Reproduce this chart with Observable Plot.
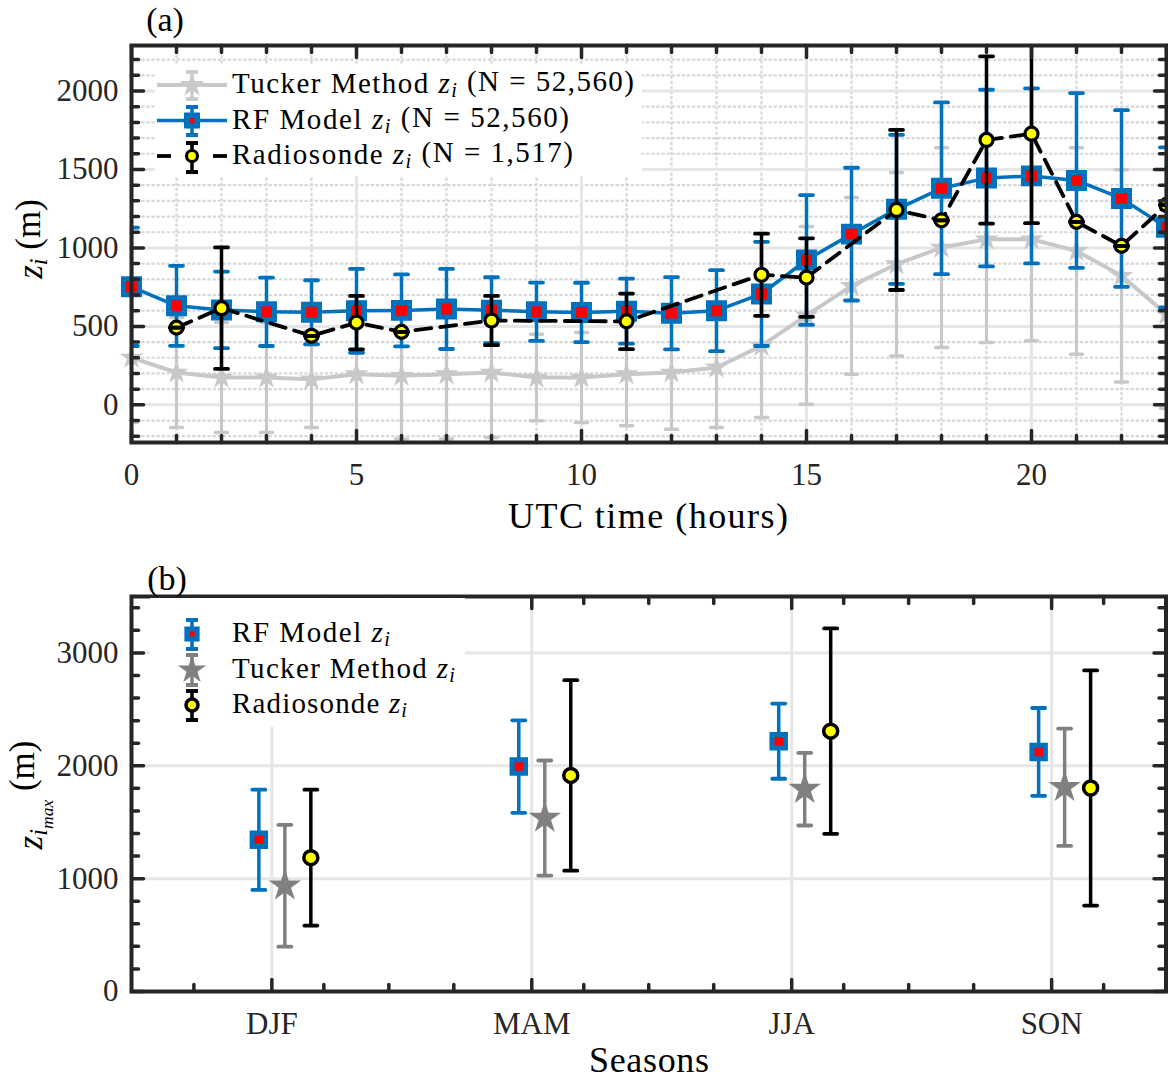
<!DOCTYPE html>
<html>
<head>
<meta charset="utf-8">
<script src="https://cdn.jsdelivr.net/npm/d3@7"></script>
<script src="https://cdn.jsdelivr.net/npm/@observablehq/plot@0.6"></script>
<style>
  body { margin: 0; background: #fff; }
  #wrap { position: relative; width: 1168px; height: 1079px; overflow: hidden; }
  #wrap > svg.plotsvg { display: block; }
  #overlay { position: absolute; left: 0; top: 0; pointer-events: none; }
</style>
</head>
<body>
<div id="wrap"></div>
<script>
// ---------------- data: panel (a) ----------------
const hours = [0,1,2,3,4,5,6,7,8,9,10,11,12,13,14,15,16,17,18,19,20,21,22,23];
const rfMean = [752,631,605,593,590,599,602,611,603,593,589,597,584,600,707,923,1088,1246,1380,1445,1459,1430,1315,1131];
const rfStd  = [377,255,244,218,204,267,229,255,210,186,189,207,230,258,332,414,423,475,547,563,558,557,563,510];
const tuckerMean = [301,206,174,174,163,195,185,195,206,174,174,195,206,238,376,570,758,896,1002,1055,1055,981,822,578];
const tuckerStd  = [414,351,350,350,308,460,402,412,414,276,287,329,361,383,457,566,563,584,637,658,647,658,676,600];
const sondeHours = [1,2,4,5,6,8,11,14,15,17,18,19,20,21,22,23];
const sondeMean  = [492,616,440,524,465,537,532,829,811,1242,1176,1688,1728,1166,1013,1274];
const sondeStd   = [0,387,0,170,0,157,177,262,250,510,0,533,570,0,0,0];
const hourTicks = [0,5,10,15,20];
const zTicksA = [0,500,1000,1500,2000];

// ---------------- data: panel (b) ----------------
const seasons = ["DJF","MAM","JJA","SON"];
const rfSeasonMean = [1344,1993,2218,2123];
const rfSeasonStd  = [444,410,333,389];
const tuckerSeasonMean = [937,1537,1793,1810];
const tuckerSeasonStd  = [540,510,322,520];
const sondeSeasonMean = [1186,1915,2307,1803];
const sondeSeasonStd  = [602,844,910,1042];
const zTicksB = [0,1000,2000,3000];

// ---------------- helpers ----------------
const AX = "#262626";
const BLUE = "#0072BD";
const FONT = '"Liberation Serif", "Times New Roman", serif';
const seg = {draw(ctx, l) { ctx.moveTo(0, 0); ctx.lineTo(0, -l); }};

function vec(data, o) {
  return Plot.vector(data, Object.assign({shape: seg, anchor: "start", stroke: AX, strokeWidth: 3.5, fill: "none"}, o));
}
function frameTicksX(values, len) {
  return [
    vec(values, {x: d => d, frameAnchor: "bottom", rotate: 0, length: len}),
    vec(values, {x: d => d, frameAnchor: "top", rotate: 180, length: len})
  ];
}
function frameTicksY(values, len) {
  return [
    vec(values, {y: d => d, frameAnchor: "left", rotate: 90, length: len}),
    vec(values, {y: d => d, frameAnchor: "right", rotate: -90, length: len})
  ];
}
function capsOf(rows) {
  return rows.flatMap(d => [{x: d.x, v: d.m - d.s}, {x: d.x, v: d.m + d.s}]);
}
function bars(rows, color, w, clip = true) {
  return Plot.ruleX(rows, {x: "x", y1: d => d.m - d.s, y2: d => d.m + d.s, stroke: color, strokeWidth: w, clip});
}
function caps(rows, color, w, len, clip = true) {
  return vec(capsOf(rows), {x: "x", y: "v", rotate: 90, anchor: "middle", length: len, stroke: color, strokeWidth: w, clip});
}
const notMult = (arr, k) => arr.filter(v => v % k !== 0);
const plainNum = d => String(d);

// ---------------- panel (a) ----------------
const rf = hours.map((h, i) => ({x: h, m: rfMean[i], s: rfStd[i]}));
const tucker = hours.map((h, i) => ({x: h, m: tuckerMean[i], s: tuckerStd[i]}));
const sonde = sondeHours.map((h, i) => ({x: h, m: sondeMean[i], s: sondeStd[i]}));

const yMinorA = notMult(d3.range(-200, 2201, 100), 500);
const xMinorA = notMult(d3.range(1, 23), 5);
const TK = "#c8c8c8";

const panelA = Plot.plot({
  width: 1168, height: 540,
  marginTop: 45, marginLeft: 131, marginRight: 2, marginBottom: 98,
  x: {domain: [0, 23]},
  y: {domain: [-240, 2290]},
  style: {fontFamily: FONT, fontSize: "31px", color: AX, background: "transparent", overflow: "visible"},
  marks: [
    Plot.ruleY(yMinorA, {stroke: "#d8d8d8", strokeWidth: 2.2, strokeDasharray: "3.3,1.8"}),
    Plot.ruleX(xMinorA, {stroke: "#d8d8d8", strokeWidth: 2.2, strokeDasharray: "3.3,1.8"}),
    Plot.ruleY(zTicksA, {stroke: "#e6e6e6", strokeWidth: 3}),
    Plot.ruleX(hourTicks.filter(h => h > 0), {stroke: "#e6e6e6", strokeWidth: 3}),
    // Tucker
    bars(tucker, TK, 3.2),
    caps(tucker, TK, 3.5, 12),
    Plot.line(tucker, {x: "x", y: "m", stroke: TK, strokeWidth: 4}),
    Plot.dot(tucker, {x: "x", y: "m", symbol: "star", r: 7.5, fill: TK, stroke: "none"}),
    // RF model
    bars(rf, BLUE, 3.5),
    caps(rf, BLUE, 3.8, 13),
    Plot.line(rf, {x: "x", y: "m", stroke: BLUE, strokeWidth: 3.5}),
    Plot.dot(rf, {x: "x", y: "m", symbol: "square", r: 9, fill: "#ff0000", stroke: BLUE, strokeWidth: 5}),
    // Radiosonde
    bars(sonde, "#000", 3.5),
    Plot.line(sonde, {x: "x", y: "m", stroke: "#000", strokeWidth: 3.8, strokeDasharray: "16,9"}),
    Plot.dot(sonde, {x: "x", y: "m", r: 6.5, fill: "#ffff00", stroke: "#000", strokeWidth: 3.2}),
    caps(sonde, "#000", 3.8, 13),
    // frame & ticks
    Plot.frame({stroke: AX, strokeWidth: 4}),
    ...frameTicksX(xMinorA.concat([23]), 7),
    ...frameTicksX(hourTicks, 12),
    ...frameTicksY(yMinorA, 7),
    ...frameTicksY(zTicksA, 12),
    Plot.axisX({ticks: hourTicks, tickFormat: plainNum, tickSize: 0, tickPadding: 20, label: null, fontSize: 31}),
    Plot.axisY({ticks: zTicksA, tickFormat: plainNum, tickSize: 0, tickPadding: 13, label: null, fontSize: 31})
  ]
});
panelA.classList.add("plotsvg");

// ---------------- panel (b) ----------------
const off = [-0.05, 0.05, 0.15];
const rfS = seasons.map((s, i) => ({x: i + 1 + off[0], m: rfSeasonMean[i], s: rfSeasonStd[i]}));
const tkS = seasons.map((s, i) => ({x: i + 1 + off[1], m: tuckerSeasonMean[i], s: tuckerSeasonStd[i]}));
const soS = seasons.map((s, i) => ({x: i + 1 + off[2], m: sondeSeasonMean[i], s: sondeSeasonStd[i]}));
const seasonPos = [1, 2, 3, 4];
const xMinorB = [0.7, 1.2, 1.45, 1.7, 2.2, 2.45, 2.7, 3.2, 3.45, 3.7, 4.2];
const yMinorB = notMult(d3.range(200, 3500, 200), 1000);
const TKB = "#808080";

const panelB = Plot.plot({
  width: 1168, height: 539,
  marginTop: 56, marginLeft: 131, marginRight: 2.5, marginBottom: 88,
  x: {domain: [0.46, 4.44]},
  y: {domain: [0, 3500]},
  style: {fontFamily: FONT, fontSize: "31px", color: AX, background: "transparent", overflow: "visible"},
  marks: [
    Plot.ruleY(zTicksB.filter(v => v > 0), {stroke: "#e6e6e6", strokeWidth: 3}),
    Plot.ruleX(seasonPos, {stroke: "#e6e6e6", strokeWidth: 3}),
    bars(rfS, BLUE, 3.5), caps(rfS, BLUE, 3.8, 13),
    Plot.dot(rfS, {x: "x", y: "m", symbol: "square", r: 7.6, fill: "#ff0000", stroke: BLUE, strokeWidth: 5}),
    bars(tkS, TKB, 3.5), caps(tkS, TKB, 3.8, 13),
    Plot.dot(tkS, {x: "x", y: "m", symbol: "star", r: 10.2, fill: TKB, stroke: "none"}),
    bars(soS, "#000", 3.5), caps(soS, "#000", 3.8, 13),
    Plot.dot(soS, {x: "x", y: "m", r: 7, fill: "#ffff00", stroke: "#000", strokeWidth: 3.5}),
    Plot.frame({stroke: AX, strokeWidth: 4}),
    ...frameTicksX(xMinorB, 7),
    ...frameTicksX(seasonPos, 12),
    ...frameTicksY(yMinorB, 7),
    ...frameTicksY(zTicksB, 12),
    Plot.axisX({ticks: seasonPos, tickFormat: d => seasons[d - 1], tickSize: 0, tickPadding: 20, label: null, fontSize: 31}),
    Plot.axisY({ticks: zTicksB, tickFormat: plainNum, tickSize: 0, tickPadding: 13, label: null, fontSize: 31})
  ]
});
panelB.classList.add("plotsvg");

const wrap = document.getElementById("wrap");
wrap.appendChild(panelA);
wrap.appendChild(panelB);

// ---------------- overlay: labels & legends ----------------
const ov = d3.select(wrap).append("svg").attr("id", "overlay")
  .attr("width", 1168).attr("height", 1079)
  .style("font-family", FONT).attr("fill", "#000");

function plain(x, y, txt, size, len) {
  const t = ov.append("text").attr("x", x).attr("y", y).attr("font-size", size)
    .attr("text-anchor", "middle").text(txt);
  if (len) t.attr("textLength", len).attr("lengthAdjust", "spacing");
}
plain(165, 31, "(a)", 34);
plain(167, 590, "(b)", 34);
plain(648, 528, "UTC time (hours)", 36, 280);
plain(649, 1072, "Seasons", 36, 120);

function zLabel(cx, cy, sub2) {
  const t = ov.append("text").attr("transform", `translate(${cx},${cy}) rotate(-90)`)
    .attr("font-size", 35).attr("text-anchor", "middle");
  t.append("tspan").attr("font-style", "italic").text("z");
  t.append("tspan").attr("font-style", "italic").attr("font-size", "70%").attr("dy", "0.22em").text("i");
  if (sub2) {
    t.append("tspan").attr("font-style", "italic").attr("font-size", "50%").attr("dy", "0.3em").text(sub2);
    t.append("tspan").attr("dy", "-0.52em").text(" (m)");
  } else {
    t.append("tspan").attr("dy", "-0.22em").text(" (m)");
  }
}
zLabel(42, 239, null);
zLabel(42, 795, "max");

function legendText(x, y, pre, post, width, size) {
  const t = ov.append("text").attr("x", x).attr("y", y).attr("font-size", size)
    .attr("textLength", width).attr("lengthAdjust", "spacing");
  t.append("tspan").text(pre + " ");
  t.append("tspan").attr("font-style", "italic").text("z");
  t.append("tspan").attr("font-style", "italic").attr("font-size", "70%").attr("dy", "0.22em").text("i");
  if (post) t.append("tspan").attr("dy", "-0.22em").text(" " + post);
}
function vbar(g, x, y1, y2, color, w, cap) {
  g.append("line").attr("x1", x).attr("x2", x).attr("y1", y1).attr("y2", y2).attr("stroke", color).attr("stroke-width", w);
  [y1, y2].forEach(y => g.append("line").attr("x1", x - cap / 2).attr("x2", x + cap / 2).attr("y1", y).attr("y2", y)
    .attr("stroke", color).attr("stroke-width", w + 0.5));
}
function sym(g, type, size, x, y, fill, stroke, sw) {
  g.append("path").attr("d", d3.symbol(type, size)()).attr("transform", `translate(${x},${y})`)
    .attr("fill", fill).attr("stroke", stroke).attr("stroke-width", sw);
}

// legend (a)
const la = ov.append("g");
la.append("rect").attr("x", 155).attr("y", 64).attr("width", 487).attr("height", 112).attr("fill", "#fff");
la.append("line").attr("x1", 157).attr("x2", 227).attr("y1", 85).attr("y2", 85).attr("stroke", TK).attr("stroke-width", 4);
vbar(la, 192, 72, 99, TK, 3.2, 12);
sym(la, d3.symbolStar, 190, 192, 85, TK, "none", 0);
la.append("line").attr("x1", 157).attr("x2", 227).attr("y1", 120.5).attr("y2", 120.5).attr("stroke", BLUE).attr("stroke-width", 3.5);
vbar(la, 192, 107, 135, BLUE, 3.5, 12);
sym(la, d3.symbolSquare, 110, 192, 120.5, "#ff0000", BLUE, 5.5);
la.append("line").attr("x1", 157).attr("x2", 171).attr("y1", 156).attr("y2", 156).attr("stroke", "#000").attr("stroke-width", 3.8);
la.append("line").attr("x1", 213).attr("x2", 227).attr("y1", 156).attr("y2", 156).attr("stroke", "#000").attr("stroke-width", 3.8);
vbar(la, 192, 143, 172, "#000", 3.5, 12);
sym(la, d3.symbolCircle, Math.PI * 5.5 * 5.5, 192, 156, "#ffff00", "#000", 3.2);
legendText(232, 93, "Tucker Method", "(N = 52,560)", 402, 29);
legendText(232, 128.5, "RF Model", "(N = 52,560)", 337, 29);
legendText(232, 164, "Radiosonde", "(N = 1,517)", 341, 29);

// legend (b)
const lb = ov.append("g");
lb.append("rect").attr("x", 150).attr("y", 598).attr("width", 315).attr("height", 129).attr("fill", "#fff");
vbar(lb, 192, 620, 649, BLUE, 3.5, 12);
sym(lb, d3.symbolSquare, 105, 192, 634, "#ff0000", BLUE, 5);
vbar(lb, 192, 655, 685, TKB, 3.5, 12);
sym(lb, d3.symbolStar, 250, 192, 670, TKB, "none", 0);
vbar(lb, 192, 691, 720, "#000", 3.5, 12);
sym(lb, d3.symbolCircle, Math.PI * 6 * 6, 192, 705, "#ffff00", "#000", 3.5);
legendText(232, 642, "RF Model", null, 158, 29);
legendText(232, 678, "Tucker Method", null, 223, 29);
legendText(232, 713, "Radiosonde", null, 175, 29);
</script>
</body>
</html>
